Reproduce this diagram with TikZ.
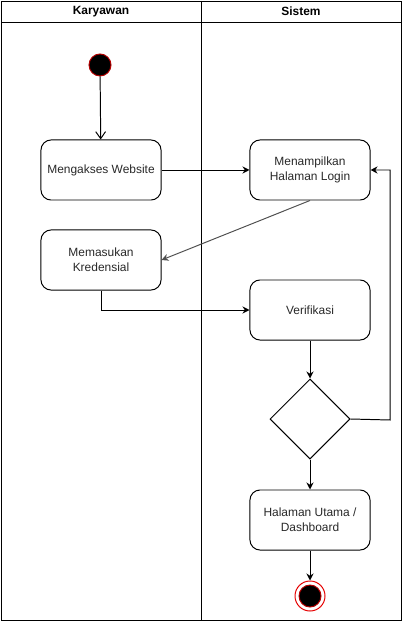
\documentclass[tikz,border=0pt]{standalone}
\usepackage{fontspec}
\setmainfont{Liberation Sans}
\usetikzlibrary{arrows.meta,shapes.geometric}

\definecolor{text color}{RGB}{40,40,40}
\definecolor{start color}{RGB}{180,0,0}
\definecolor{end color}{RGB}{230,0,0}
\definecolor{back color}{RGB}{80,80,80}

\tikzset{
  action/.style={draw, rounded corners=.25cm, minimum width=3cm, minimum height=1.5cm,
    align=center, text=text color, font=\fontsize{8.5}{10.5}\selectfont},
  flow/.style={-{Stealth[length=5pt,width=5pt]}},
}

\begin{document}
\begin{tikzpicture}[x=0.025cm, y=-0.025cm, line width=.7pt]
	\useasboundingbox (0,0) rectangle (402,622);
	% swimlanes
	\draw (1,1) rectangle (401,620);
	\draw (1,22) -- (401,22);
	\draw (201,1) -- (201,620);
	\node (lane1) at (101,11.5) {\fontsize{8.5}{10}\selectfont\bfseries Karyawan};
	\node (lane2) at (301,11.5) {\fontsize{8.5}{10}\selectfont\bfseries Sistem};

	\node (start) at (100,65) [circle, fill=black, draw=start color, minimum size=.55cm, inner sep=0] {};
	\node (akses) at (101,170) [action] {Mengakses Website};
	\node (login) at (310,170) [action] {Menampilkan\\Halaman Login};
	\node (kred) at (101,260) [action] {Memasukan\\Kredensial};
	\node (verif) at (310,310) [action] {Verifikasi};
	\node (cek) at (310,419) [diamond, draw, minimum width=2cm, minimum height=2cm, inner sep=0] {};
	\node (utama) at (310,520) [action] {Halaman Utama /\\Dashboard};
	\node (end) at (310,596) [circle, draw=end color, fill=white, minimum size=.75cm, inner sep=0] {};
	\node (end dot) at (end) [circle, fill=black, draw=start color, minimum size=.55cm, inner sep=0] {};
	\coordinate (back) at (390,420);

	\draw [-{Straight Barb[length=5pt,width=7pt]}] (start) -- (akses);
	\draw [flow] (akses) -- (login);
	\draw [flow, back color] (login.south) -- (kred.east);
	\draw [flow] (kred.south) |- (verif.west);
	\draw [flow] (verif) -- (cek);
	\draw [flow] (cek.east) -- (back) |- (login.east);
	\draw [flow] (cek) -- (utama);
	\draw [flow] (utama) -- (end);
\end{tikzpicture}
\end{document}
